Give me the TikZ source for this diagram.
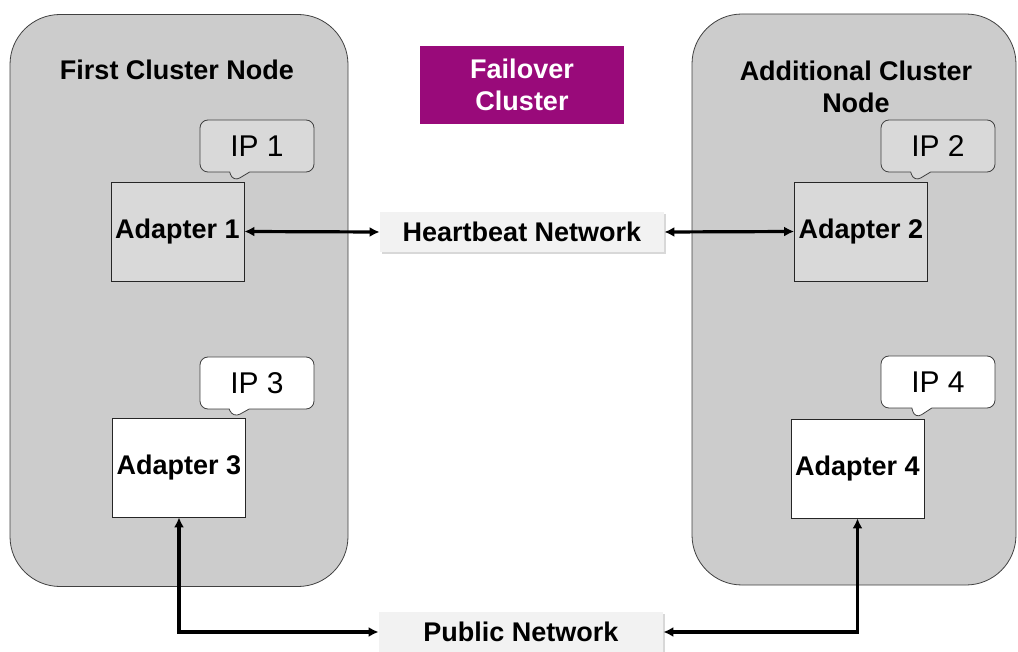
\documentclass[tikz,border=0pt]{standalone}
\usepackage{fontspec}
\setmainfont{Liberation Sans}
\usetikzlibrary{positioning, arrows.meta, shapes.callouts, shadows}
\definecolor{clgray}{HTML}{CCCCCC}
\definecolor{adgray}{HTML}{D9D9D9}
\definecolor{netgray}{HTML}{F2F2F2}
\definecolor{edgegray}{HTML}{404040}
\definecolor{fopurple}{HTML}{990A7A}

\begin{document}
\begin{tikzpicture}[
    x=0.5pt, y=-0.5pt,
    cluster/.style={draw=edgegray, fill=clgray, rounded corners=25pt, minimum width=169pt, minimum height=286pt},
    adapter/.style={draw=black!85, inner sep=1pt, minimum width=66.5pt, minimum height=49.5pt, font=\fontsize{13.5}{16}\selectfont\bfseries},
    ipbox/.style={rectangle callout, draw=edgegray, rounded corners=4pt, minimum width=57pt, minimum height=26pt, callout pointer width=10pt, font=\fontsize{15}{18}\selectfont},
    net/.style={fill=netgray, minimum width=142pt, minimum height=20pt, font=\fontsize{13.5}{16}\selectfont\bfseries, drop shadow={shadow xshift=0.8pt, shadow yshift=-1.2pt, fill=black!30}},
    title/.style={align=center, font=\fontsize{13.5}{16}\selectfont\bfseries},
    link/.style={draw, line width=1.6pt, {Latex[length=5pt,width=5pt]}-{Latex[length=5pt,width=5pt]}}
  ]
    \useasboundingbox (0,0) rectangle (1018,652);
    % Clusterknoten
    \node[cluster] (left) at (179,300.5) {};
    \node[cluster, minimum width=162pt, minimum height=285.5pt] (right) at (854,299.5) {};
    \node[title] (lefttitle) at (177,70) {First Cluster Node};
    \node[title] (righttitle) at (856,87) {Additional Cluster\\Node};
    % Titel
    \node[title, fill=fopurple, text=white, minimum width=102pt, minimum height=39pt] (fo) at (522,85) {Failover\\Cluster};
    % Adapter
    \node[adapter, fill=adgray] (ad1) at (177.5,231.5) {Adapter 1};
    \node[adapter, fill=adgray] (ad2) at (861,231.5) {Adapter 2};
    \node[adapter, fill=white] (ad3) at (179,467.5) {Adapter 3};
    \node[adapter, fill=white] (ad4) at (857.5,468.5) {Adapter 4};
    % IP-Adressen
    \node[ipbox, fill=adgray, callout absolute pointer={(233,182)}] (ip1) at (257,146) {IP 1};
    \node[ipbox, fill=adgray, callout absolute pointer={(914,182)}] (ip2) at (938,146) {IP 2};
    \node[ipbox, fill=white, callout absolute pointer={(233,418)}] (ip3) at (257,383) {IP 3};
    \node[ipbox, fill=white, callout absolute pointer={(915,419)}] (ip4) at (938,382) {IP 4};
    % Netzwerke
    \node[net] (hb) at (522,232) {Heartbeat Network};
    \node[net] (pub) at (521,632) {Public Network};
    % Verbindungen
    \draw[link] (ad1.east) -- (hb.west);
    \draw[link] (hb.east) -- (ad2.west);
    \draw[link] (ad3.south) |- (pub.west);
    \draw[link] (ad4.south) |- (pub.east);
  \end{tikzpicture}
\end{document}
